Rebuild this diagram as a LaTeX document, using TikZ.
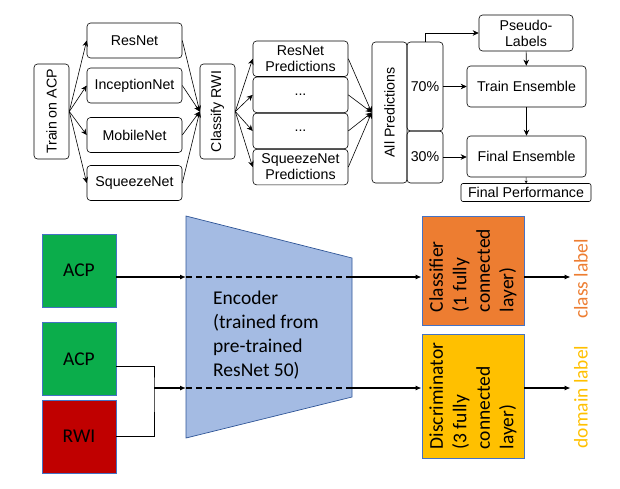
\documentclass[tikz,border=0pt]{standalone}
\usepackage{fontspec}
\setmainfont{Liberation Sans}
\newfontfamily\calfont{Carlito}
\usetikzlibrary{arrows.meta,positioning,calc}

\definecolor{acpgreen}{HTML}{0BAD4B}
\definecolor{rwired}{HTML}{C00000}
\definecolor{clsorange}{HTML}{ED7D31}
\definecolor{discyellow}{HTML}{FFC000}
\definecolor{encfill}{HTML}{A4BBE3}
\definecolor{encline}{HTML}{2F5597}
\definecolor{blkline}{HTML}{4472C4}

\begin{document}
\begin{tikzpicture}[
    x=1pt, y=-1pt,
    node distance=0pt,
    box/.style={draw, rounded corners=3.5pt, line width=0.6pt, inner sep=1pt, align=center,
      font=\fontsize{14.2}{16}\selectfont},
    vbox/.style={box, rotate=90},
    arrow/.style={-{Stealth[length=6pt, width=5.5pt]}, line width=0.6pt},
    block/.style={draw=blkline, line width=0.8pt, fill=#1, minimum width=74pt, minimum height=73pt,
      inner sep=0pt, font=\calfont\fontsize{19.5}{23.5}\selectfont},
    head/.style={draw=blkline, line width=0.8pt, fill=#1, rotate=90, align=left, inner sep=0pt,
      font=\calfont\fontsize{19.5}{23.5}\selectfont},
    bigarrow/.style={-{Latex[length=6pt, width=5pt]}, line width=1.5pt},
    featline/.style={line width=1.3pt, dash pattern=on 6pt off 4pt},
]
\useasboundingbox (0,0) rectangle (620,488);

% --- ensemble pipeline (top) ---
\node[vbox, minimum width=95pt, minimum height=35pt] (train) at (51.5,111.5) {Train on ACP};

\node[box, minimum width=95pt, minimum height=35pt] (resnet) at (134.5,40.5) {ResNet};
\node[box, minimum width=95pt, minimum height=35pt] (incep) at (134.5,85.5) {InceptionNet};
\node[box, minimum width=95pt, minimum height=35pt] (mobile) at (134.5,135) {MobileNet};
\node[box, minimum width=95pt, minimum height=35pt] (squeeze) at (134.5,183) {SqueezeNet};

\node[vbox, minimum width=95pt, minimum height=35pt] (classify) at (217.5,111.5) {Classify RWI};

\node[box, minimum width=95pt, minimum height=35.5pt] (pred1) at (300.5,58.75) {ResNet\\Predictions};
\node[box, minimum width=95pt, minimum height=35.5pt, below=of pred1] (pred2) {...};
\node[box, minimum width=95pt, minimum height=35.5pt, below=of pred2] (pred3) {...};
\node[box, minimum width=95pt, minimum height=35.5pt, below=of pred3] (pred4) {SqueezeNet\\Predictions};

\node[vbox, minimum width=141pt, minimum height=35pt] (allpred) at (389.5,112.5) {All Predictions};
\node[box, minimum width=36pt, minimum height=89pt] (p70) at (425,86.5) {70\%};
\node[box, minimum width=36pt, minimum height=52pt] (p30) at (425,157) {30\%};

\node[box, minimum width=94pt, minimum height=36pt] (pseudo) at (526,33) {Pseudo-\\Labels};
\node[box, minimum width=119pt, minimum height=41pt] (trainens) at (526.5,86.5) {Train Ensemble};
\node[box, minimum width=119pt, minimum height=41pt] (finalens) at (526.5,156.5) {Final Ensemble};
\node[box, rounded corners=2pt, minimum width=130pt, minimum height=18pt, inner sep=0pt] (finalperf) at (526,192.5) {Final Performance};

\foreach \m in {resnet,incep,mobile,squeeze} {
  \draw[arrow] (train.south) -- (\m.west);
  \draw[arrow] (\m.east) -- (classify.north);
}
\foreach \p in {pred1,pred2,pred3,pred4} {
  \draw[arrow] (classify.south) -- (\p.west);
  \draw[arrow] (\p.east) -- (allpred.north);
}
\draw[arrow] (p70.north) |- (pseudo.west);
\draw[arrow] (p70.east) -- (p70.east -| trainens.west);
\draw[arrow] (p30.east) -- (p30.east -| finalens.west);
\draw[arrow] (pseudo) -- (trainens);
\draw[arrow] (trainens) -- (finalens);
\draw[-{Stealth[length=2.5pt, width=3pt]}, line width=0.5pt] (finalens) -- (finalperf);

% --- domain adaptation network (bottom) ---
\node[block=acpgreen] (acp1) at (79,270.5) {ACP};
\node[block=acpgreen] (acp2) at (79,359) {ACP};
\node[block=rwired] (rwi) at (79,436.5) {RWI};

\coordinate (enc-tl) at (186,216);
\coordinate (enc-bl) at (186,438);
\coordinate (enc-tr) at (352,258);
\coordinate (enc-br) at (352,397);
\draw[draw=encline, fill=encfill, line width=0.7pt] (enc-tl) -- (enc-tr) -- (enc-br) -- (enc-bl) -- cycle;
\node[anchor=west, align=left, inner sep=0pt, font=\calfont\fontsize{19.5}{24}\selectfont] (enctext) at (213,335)
  {Encoder\\(trained from\\pre-trained\\ResNet 50)};

\coordinate (enc-in1) at (186,277);
\coordinate (enc-out1) at (352,277);
\coordinate (enc-in2) at (186,388);
\coordinate (enc-out2) at (352,388);
\coordinate (junc) at (154,388);

\node[head=clsorange, minimum width=109pt, minimum height=102pt] (cls) at (473,270.5)
  {Classifier\\(1 fully\\connected\\layer)};
\node[head=discyellow, minimum width=124pt, minimum height=102pt] (disc) at (473,396)
  {Discriminator\\(3 fully\\connected\\layer)};

\node[rotate=90, text=clsorange, font=\calfont\fontsize{19.5}{23.5}\selectfont] (clslab) at (581,279) {class label};
\node[rotate=90, text=discyellow, font=\calfont\fontsize{19.5}{23.5}\selectfont] (domlab) at (581,397) {domain label};

\draw[bigarrow] (acp1.east |- enc-in1) -- (enc-in1);
\draw[line width=1pt] ([yshift=-7pt]acp2.east) -| (junc) |- (rwi.east);
\draw[bigarrow] (junc) -- (enc-in2);
\draw[featline] (enc-in1) -- (enc-out1);
\draw[featline] (enc-in2) -- (enc-out2);
\draw[bigarrow] (enc-out1) -- (enc-out1 -| cls.north);
\draw[bigarrow] (enc-out2) -- (enc-out2 -| disc.north);
\draw[bigarrow] (cls.south |- enc-out1) -- (clslab.north |- enc-out1);
\draw[bigarrow] (disc.south |- enc-out2) -- (domlab.north |- enc-out2);
\end{tikzpicture}
\end{document}
